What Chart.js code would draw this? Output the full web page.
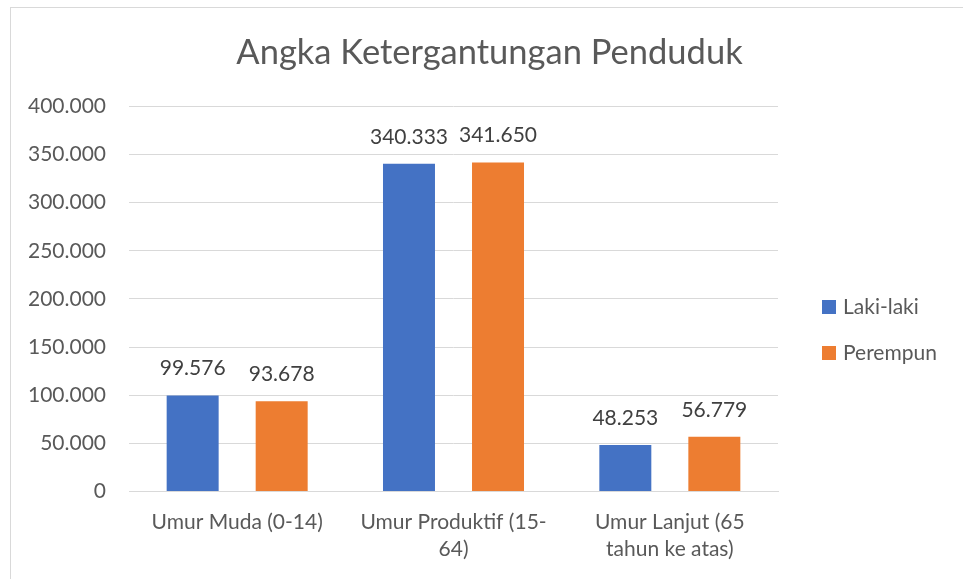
<!DOCTYPE html>
<html>
<head>
<meta charset="utf-8">
<script src="https://cdn.jsdelivr.net/npm/chart.js@4.4.1/dist/chart.umd.min.js"></script>
<style>
  html, body { margin: 0; padding: 0; background: #fff; }
  #wrap { position: absolute; left: 0; top: 0; width: 963px; height: 579px; }
  #frame { position: absolute; left: 10px; top: 7px; width: 960px; height: 600px;
           border-left: 1px solid #d9d9d9; border-top: 1px solid #d9d9d9; }
  canvas { position: absolute; left: 0; top: 0; }
</style>
</head>
<body>
<div id="wrap">
  <div id="frame"></div>
  <canvas id="c" width="963" height="579"></canvas>
</div>
<script>
const titleText = 'Angka Ketergantungan Penduduk';
const categories = [
  ['Umur Muda (0-14)'],
  ['Umur Produktif (15-', '64)'],
  ['Umur Lanjut (65', 'tahun ke atas)']
];
const seriesNames = ['Laki-laki', 'Perempun'];
const lakiLaki = [99576, 340333, 48253];
const perempuan = [93678, 341650, 56779];
const yTicks = [0, 50000, 100000, 150000, 200000, 250000, 300000, 350000, 400000];
const colors = ['#4472C4', '#ED7D31'];

const FONT = 'Lato, "Open Sans", sans-serif';
const TEXT = '#595959';

function fmt(v) {
  return String(Math.round(v)).replace(/\B(?=(\d{3})+(?!\d))/g, '.');
}

const dataLabels = {
  id: 'dataLabels',
  afterDatasetsDraw(chart) {
    const ctx = chart.ctx;
    ctx.save();
    ctx.font = '21px ' + FONT;
    ctx.fillStyle = '#404040';
    ctx.textAlign = 'center';
    ctx.textBaseline = 'middle';
    chart.data.datasets.forEach((ds, di) => {
      const meta = chart.getDatasetMeta(di);
      meta.data.forEach((bar, i) => {
        ctx.fillText(fmt(ds.data[i]), bar.x, bar.y - 27);
      });
    });
    ctx.restore();
  }
};

const sideLegend = {
  id: 'sideLegend',
  afterDraw(chart) {
    const ctx = chart.ctx;
    const ca = chart.chartArea;
    const x0 = ca.right + 44;
    const cy = 330;
    const gap = 46;
    ctx.save();
    ctx.font = '21px ' + FONT;
    ctx.textBaseline = 'middle';
    ctx.textAlign = 'left';
    chart.data.datasets.forEach((ds, i) => {
      const y = cy + (i - 0.5) * gap;
      ctx.fillStyle = ds.backgroundColor;
      ctx.fillRect(x0, y - 7, 14, 14);
      ctx.fillStyle = TEXT;
      ctx.fillText(ds.label, x0 + 21, y);
    });
    ctx.restore();
  }
};

new Chart(document.getElementById('c'), {
  type: 'bar',
  data: {
    labels: categories,
    datasets: [
      { label: seriesNames[0], data: lakiLaki, backgroundColor: colors[0] },
      { label: seriesNames[1], data: perempuan, backgroundColor: colors[1] }
    ]
  },
  options: {
    responsive: false,
    animation: false,
    devicePixelRatio: 1,
    layout: { padding: { left: 16, right: 0, top: 0, bottom: 7 } },
    datasets: { bar: { categoryPercentage: 0.823, barPercentage: 0.584 } },
    plugins: {
      legend: { display: false },
      tooltip: { enabled: false },
      title: {
        display: true,
        text: titleText,
        color: TEXT,
        font: { family: FONT, size: 34.5, weight: 'normal' },
        padding: { top: 32, bottom: 33 }
      }
    },
    scales: {
      x: {
        grid: { display: false },
        border: { display: true, color: '#d9d9d9' },
        ticks: {
          color: TEXT,
          font: { family: FONT, size: 21, lineHeight: 1.3 },
          padding: 9,
          maxRotation: 0,
          autoSkip: false
        }
      },
      y: {
        min: 0,
        max: 400000,
        afterBuildTicks(scale) { scale.ticks = yTicks.map(v => ({ value: v })); },
        afterFit(scale) { scale.width = 113; },
        grid: { color: '#d9d9d9', drawTicks: false },
        border: { display: false },
        ticks: {
          color: TEXT,
          font: { family: FONT, size: 21 },
          padding: 23,
          callback: v => fmt(v)
        }
      },
      legendSpace: {
        type: 'linear',
        position: 'right',
        display: true,
        afterFit(scale) { scale.width = 185; },
        grid: { display: false },
        border: { display: false },
        ticks: { display: false }
      }
    }
  },
  plugins: [dataLabels, sideLegend]
});
</script>
</body>
</html>
